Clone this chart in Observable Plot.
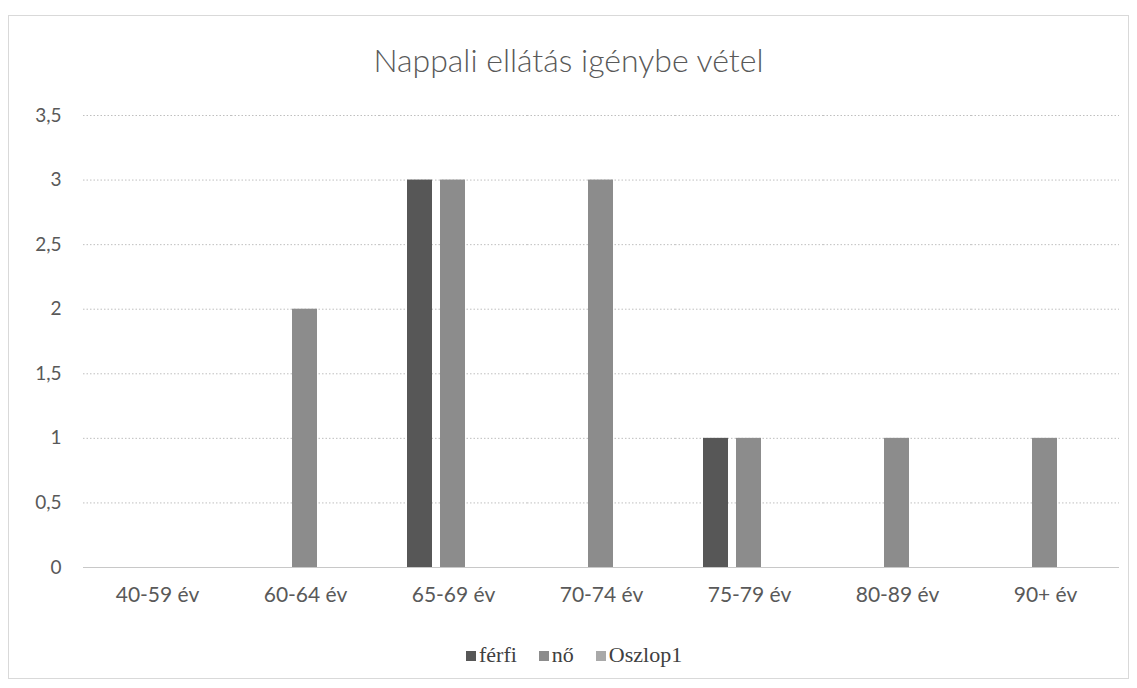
<!DOCTYPE html>
<html>
<head>
<meta charset="utf-8">
<script src="https://cdn.jsdelivr.net/npm/d3@7"></script>
<script src="https://cdn.jsdelivr.net/npm/@observablehq/plot@0.6"></script>
<style>
  html, body { margin: 0; padding: 0; background: #fff; width: 1137px; height: 688px; overflow: hidden; font-family: Lato, "Open Sans", sans-serif; }
  #frame { position: absolute; left: 8px; top: 15px; width: 1121px; height: 664px; border: 1px solid #d9d9d9; box-sizing: border-box; }
  #title { position: absolute; left: 0; top: 40px; width: 1137px; text-align: center; font-size: 32px; color: #595959; font-weight: 300; line-height: 40px; }
  #chart { position: absolute; left: 0; top: 95px; }
  #legend { position: absolute; left: 466px; top: 641px; white-space: nowrap; font-family: "Liberation Serif", "DejaVu Serif", serif; font-size: 22px; line-height: 28px; color: #404040; }
  #legend span.item { margin-right: 22px; white-space: nowrap; }
  #legend span.sw { display: inline-block; width: 10px; height: 10px; margin-right: 3px; vertical-align: 1px; }
</style>
</head>
<body>
<div id="frame"></div>
<div id="title">Nappali ellátás igénybe vétel</div>
<div id="chart"></div>
<div id="legend"></div>
<script>
const categories = ["40-59 év", "60-64 év", "65-69 év", "70-74 év", "75-79 év", "80-89 év", "90+ év"];
const seriesNames = ["férfi", "nő", "Oszlop1"];
const ferfi = [0, 0, 3, 0, 1, 0, 0];
const no = [0, 2, 3, 3, 1, 1, 1];
const oszlop1 = [0, 0, 0, 0, 0, 0, 0];
const yTicks = [0, 0.5, 1, 1.5, 2, 2.5, 3, 3.5];
const colors = ["#575757", "#8c8c8c", "#a9a9a9"];

const seriesValues = [ferfi, no, oszlop1];
const data = [];
categories.forEach((c, i) => {
  seriesNames.forEach((s, j) => {
    data.push({cat: c, series: s, value: seriesValues[j][i]});
  });
});

const fmt = d => String(d).replace(".", ",");

const chart = Plot.plot({
  width: 1137,
  height: 535,
  marginLeft: 80,
  marginRight: 16,
  marginTop: 20,
  marginBottom: 63,
  style: { fontFamily: "Lato, 'Open Sans', sans-serif", color: "#595959", background: "transparent" },
  fx: { domain: categories, padding: 0, label: null },
  x: { domain: seriesNames, paddingInner: 0.235, paddingOuter: 0.805, axis: null },
  y: { domain: [0, 3.5], label: null },
  color: { domain: seriesNames, range: colors },
  marks: [
    Plot.gridY(yTicks, { stroke: "#bfbfbf", strokeOpacity: 1, strokeDasharray: "1.5,2", strokeWidth: 1 }),
    Plot.axisY(yTicks, { tickFormat: fmt, tickSize: 0, tickPadding: 22, fontSize: 19, label: null, fill: "#595959" }),
    Plot.axisFx({ anchor: "bottom", tickSize: 0, tickPadding: 20, fontSize: 21, label: null, fill: "#595959" }),
    Plot.barY(data, { fx: "cat", x: "series", y: "value", fill: "series" }),
    Plot.ruleY([0], { stroke: "#c8c8c8", strokeWidth: 1 })
  ]
});
document.getElementById("chart").appendChild(chart);

const legend = document.getElementById("legend");
legend.innerHTML = seriesNames.map((s, i) =>
  `<span class="item"><span class="sw" style="background:${colors[i]}"></span>${s}</span>`).join("");
</script>
</body>
</html>
